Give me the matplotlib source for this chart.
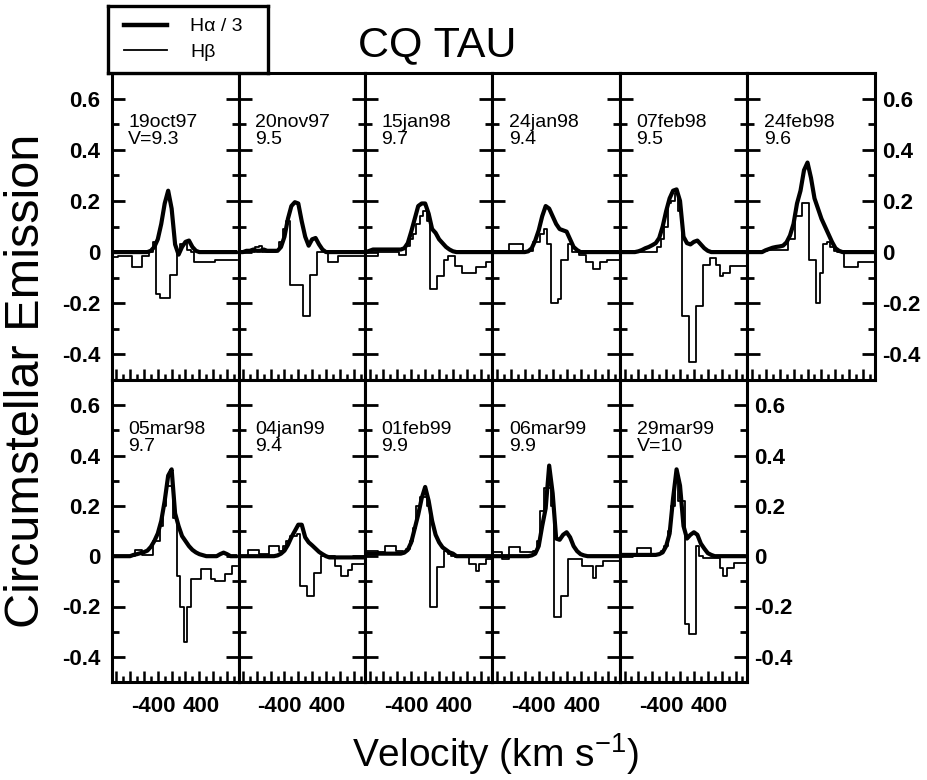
import numpy as np
import matplotlib
matplotlib.use("Agg")
import matplotlib.pyplot as plt
import matplotlib.transforms as mtransforms
from matplotlib.lines import Line2D
from matplotlib.ticker import FixedLocator, FuncFormatter, NullFormatter

plt.rcParams['font.family'] = ['Liberation Sans', 'DejaVu Sans']
plt.rcParams['mathtext.fontset'] = 'custom'
plt.rcParams['mathtext.rm'] = 'Liberation Sans'
plt.rcParams['mathtext.it'] = 'Liberation Sans'
plt.rcParams['axes.unicode_minus'] = False

# velocity channels (km/s)
velocity = np.arange(-850, 951, 50)

dates = ['19oct97', '20nov97', '15jan98', '24jan98', '07feb98', '24feb98',
         '05mar98', '04jan99', '01feb99', '06mar99', '29mar99']
vmags = ['V=9.3', '9.5', '9.7', '9.4', '9.5', '9.6',
         '9.7', '9.4', '9.9', '9.9', 'V=10']

# labelled velocity ticks
vel_label_values = [-400, 400]
vel_label_texts = ['-400', '400']

# H-alpha / 3 circumstellar emission
ha_19oct97 = [0, 0, 0, 0, 0, 0, 0, 0, 0, 0, 0,
              0.005, 0.02, 0.05, 0.11, 0.19, 0.24, 0.17, 0.03, -0.01, 0.02, 0.04, 0.045, 0.02, 0.005,
              0, 0, 0, 0, 0, 0, 0, 0, 0, 0, 0, 0]
ha_20nov97 = [0.0, 0.0, 0.005, 0.005, 0.01, 0.005, 0.005, 0.01, 0.005, 0.005, 0.005,
              0.005, 0.02, 0.06, 0.13, 0.18, 0.195, 0.19, 0.12, 0.06, 0.025, 0.05, 0.055, 0.03, 0.01,
              0, 0, 0, 0, 0, 0, 0, 0, 0, 0, 0, 0]
ha_15jan98 = [0.0, 0.005, 0.01, 0.01, 0.01, 0.01, 0.01, 0.01, 0.01, 0.01, 0.01,
              0.015, 0.035, 0.08, 0.13, 0.18, 0.19, 0.19, 0.15, 0.09, 0.075, 0.05, 0.035, 0.02, 0.01,
              0.003, 0, 0, 0, 0, 0, 0, 0, 0, 0, 0, 0]
ha_24jan98 = [0, 0, 0, 0, 0, 0, 0, 0, 0, 0, 0.003,
              0.015, 0.045, 0.085, 0.14, 0.18, 0.17, 0.14, 0.11, 0.09, 0.085, 0.08, 0.05, 0.02, 0.008,
              0, 0, 0, 0, 0, 0, 0, 0, 0, 0, 0, 0]
ha_07feb98 = [0, 0, 0, 0, 0,
              0.003, 0.008, 0.015, 0.02, 0.027, 0.035, 0.055, 0.1, 0.16, 0.21, 0.24, 0.245, 0.2,
              0.06, 0.035, 0.03, 0.04, 0.045, 0.03, 0.015, 0.005,
              0, 0, 0, 0, 0, 0, 0, 0, 0, 0, 0]
ha_24feb98 = [0, 0, 0, 0, 0,
              0.007, 0.012, 0.017, 0.02, 0.022, 0.025, 0.038, 0.065, 0.11, 0.19, 0.24, 0.32, 0.35,
              0.29, 0.21, 0.17, 0.13, 0.1, 0.07, 0.04, 0.015, 0.005,
              0, 0, 0, 0, 0, 0, 0, 0, 0, 0]
ha_05mar98 = [0, 0, 0, 0, 0, 0,
              0.005, 0.008, 0.012, 0.016, 0.022, 0.037, 0.06, 0.09, 0.14, 0.22, 0.32, 0.345,
              0.17, 0.12, 0.08, 0.06, 0.04, 0.025, 0.015, 0.008, 0.004,
              0, 0, 0, 0, 0.008, 0.014, 0.008, 0, 0, 0]
ha_04jan99 = [0, 0, 0, 0, 0, 0, 0, 0, 0, 0, 0,
              0.003, 0.01, 0.022, 0.045, 0.075, 0.1, 0.125, 0.125, 0.075, 0.055, 0.043, 0.03,
              0.017, 0.008, 0.0,
              -0.005, -0.005, -0.005, -0.005, -0.005, -0.005, -0.005, -0.005, -0.005, -0.005, -0.005]
ha_01feb99 = [0.01, 0.01, 0.01, 0.01, 0.01, 0.01, 0.01, 0.01, 0.01, 0.01, 0.01,
              0.014, 0.025, 0.055, 0.11, 0.165, 0.23, 0.275, 0.22, 0.14, 0.085, 0.055, 0.035,
              0.025, 0.015, 0.01,
              0, 0, 0, 0, 0, 0, 0, 0, 0, 0, 0]
ha_06mar99 = [0, 0, 0, 0, 0, 0, 0, 0, 0, 0, 0,
              0.003, 0.01, 0.04, 0.12, 0.19, 0.36, 0.25, 0.07, 0.065, 0.085, 0.095, 0.075,
              0.04, 0.02, 0.008, 0.003,
              0, 0, 0, 0, 0, 0, 0, 0, 0, 0]
ha_29mar99 = [0.005, 0.005, 0.005, 0.005, 0.005, 0.005, 0.005, 0.005, 0.005, 0.005, 0.005,
              0.008, 0.015, 0.04, 0.09, 0.23, 0.345, 0.28, 0.12, 0.07, 0.085, 0.095, 0.085,
              0.05, 0.03, 0.012, 0.005,
              0, 0, 0, 0, 0, 0, 0, 0, 0, 0]

# H-beta circumstellar emission (binned)
hb_19oct97 = [-0.02, -0.02, -0.015, -0.015, -0.015, -0.015, -0.06, -0.06, -0.06, -0.015, -0.015,
              0.0, 0.04, -0.165, -0.18, -0.18, -0.18, -0.09, -0.09, 0.0, 0.03, 0.035, 0.01, 0.0,
              -0.04, -0.04, -0.04, -0.04, -0.04, -0.04,
              -0.03, -0.03, -0.03, -0.03, -0.03, -0.03, -0.03]
hb_20nov97 = [0, 0, 0, 0, 0, 0.02, 0.025, 0, 0, 0, 0,
              0.01, 0.04, 0.09, 0.12, -0.13, -0.13, -0.13, -0.13, -0.25, -0.25, -0.09, -0.09,
              0.0, 0.0, 0.0, -0.04, -0.04, -0.04,
              -0.015, -0.015, -0.015, -0.015, -0.015, -0.015, -0.015, -0.015]
hb_15jan98 = [-0.015, -0.015, -0.015, -0.015, 0.0, 0.0, 0.0, 0.0, 0.0, 0.0, -0.01, -0.01,
              0.025, 0.05, 0.07, 0.11, 0.14, 0.16, 0.12,
              -0.145, -0.145, -0.095, -0.095, -0.03, -0.015, -0.015, -0.055, -0.055,
              -0.08, -0.08, -0.08, -0.08, -0.06, -0.06, -0.06, -0.04, -0.04]
hb_24jan98 = [0.0, 0.0, 0.0, 0.0, 0.0, 0.03, 0.03, 0.03, 0.03, 0.005, 0.005, 0.005,
              0.04, 0.04, 0.07, 0.09, 0.03, -0.2, -0.2, -0.185, -0.03, -0.03, 0.03,
              0.0, 0.0, -0.01, -0.01, -0.04, -0.04, -0.065, -0.065, -0.04, -0.04,
              -0.03, -0.03, -0.03, -0.03]
hb_07feb98 = [0, 0, 0, 0, 0, 0, 0, 0, 0, 0, 0,
              0.02, 0.05, 0.1, 0.19, 0.2, 0.23, 0.16,
              -0.25, -0.25, -0.43, -0.43, -0.21, -0.21, -0.05, -0.05, -0.025, -0.025, -0.05,
              -0.095, -0.08, -0.08, -0.055, -0.055, -0.055, -0.055, -0.055]
hb_24feb98 = [0.0, 0.0, 0.0, 0.0, 0.0, 0.005, 0.01, 0.01, 0.01, 0.01, 0.01, 0.01,
              0.05, 0.05, 0.14, 0.14, 0.19, 0.19,
              -0.03, -0.03, -0.2, -0.08, 0.03, 0.04, 0.02, 0.005, 0.0, 0.0,
              -0.06, -0.06, -0.06, -0.06, -0.04, -0.04, -0.04, -0.04, -0.04]
hb_05mar98 = [0, 0, 0, 0, 0, 0, 0, 0.025, 0.025, 0.005, 0.005, 0.005,
              0.06, 0.06, 0.12, 0.2, 0.28, 0.28, 0.15,
              -0.08, -0.2, -0.34, -0.2, -0.09, -0.09, -0.09, -0.05, -0.05, -0.05,
              -0.09, -0.1, -0.1, -0.1, -0.07, -0.07, -0.04, -0.04]
hb_04jan99 = [0, 0, 0, 0.025, 0.025, 0.025, 0.01, 0.01, 0.01, 0.04, 0.04, 0.04,
              0.02, 0.04, 0.06, 0.08, 0.08, 0.09, -0.12, -0.12, -0.16, -0.16, -0.065, -0.065,
              0, 0, 0, 0, -0.04, -0.04, -0.08, -0.08, -0.053, -0.033, -0.033, -0.033, -0.033]
hb_01feb99 = [0.02, 0.02, 0.02, 0.02, 0.015, 0.015, 0.04, 0.04, 0.04, 0.02, 0.02,
              0.015, 0.03, 0.06, 0.11, 0.2, 0.235, 0.235, 0.2,
              -0.2, -0.2, -0.045, -0.045, 0.02, 0.01, 0.0,
              -0.005, -0.005, -0.005, -0.005, -0.03, -0.03, -0.057, -0.03, -0.03, -0.01, -0.01]
hb_06mar99 = [0.016, 0.016, 0.016, -0.01, -0.01, 0.036, 0.036, 0.036,
              0.016, 0.016, 0.016, 0.016, 0.02, 0.06, 0.18, 0.27, 0.27, 0.2,
              -0.24, -0.24, -0.16, -0.16, -0.01, -0.01, -0.01, -0.01,
              -0.04, -0.04, -0.04, -0.085, -0.04, -0.04, -0.02, -0.02, -0.02, -0.02, -0.02]
hb_29mar99 = [0, 0, 0, 0, 0, 0.033, 0.033, 0.033, 0.033, 0.01, 0.01, 0.01,
              0.02, 0.04, 0.1, 0.2, 0.32, 0.22, 0.22,
              -0.27, -0.31, -0.31, 0.04, 0.0,
              -0.007, -0.007, -0.007, -0.007, -0.007, -0.046, -0.08, -0.046, -0.046,
              -0.027, -0.027, -0.027, -0.027]

halpha = [ha_19oct97, ha_20nov97, ha_15jan98, ha_24jan98, ha_07feb98, ha_24feb98,
          ha_05mar98, ha_04jan99, ha_01feb99, ha_06mar99, ha_29mar99]
hbeta = [hb_19oct97, hb_20nov97, hb_15jan98, hb_24jan98, hb_07feb98, hb_24feb98,
         hb_05mar98, hb_04jan99, hb_01feb99, hb_06mar99, hb_29mar99]

# ---- layout (pixels) ----
W, H = 927, 780
col_edges = [111.7, 238.5, 365.0, 492.3, 620.0, 747.0, 875.0]
row_edges = [(73, 380), (380, 682)]
n_top = 6
# horizontal nudges (points) of the velocity labels
vel_label_nudge = [6.5, 1.0]

fig = plt.figure(figsize=(W / 100, H / 100), dpi=100)

SPINE_W = 2.2
yfmt = FuncFormatter(lambda v, p: '0' if abs(v) < 1e-9 else f'{v:.1f}')

for k, (ha, hb) in enumerate(zip(halpha, hbeta)):
    row = 0 if k < n_top else 1
    col = k if k < n_top else k - n_top
    x0, x1 = col_edges[col], col_edges[col + 1]
    y0, y1 = row_edges[row]
    ax = fig.add_axes([x0 / W, 1 - y1 / H, (x1 - x0) / W, (y1 - y0) / H])

    ax.plot(velocity, ha, color='black', lw=3.0, solid_joinstyle='round',
            solid_capstyle='butt')
    ax.step(velocity, hb, where='mid', color='black', lw=1.3)

    ax.set_xlim(-865, 965)
    ax.set_ylim(-0.5, 0.7)

    ax.yaxis.set_major_locator(FixedLocator([-0.4, -0.2, 0.0, 0.2, 0.4, 0.6]))
    ax.yaxis.set_minor_locator(FixedLocator([-0.3, -0.1, 0.1, 0.3, 0.5]))
    ax.xaxis.set_major_locator(FixedLocator(np.arange(-800, 801, 200)))
    ax.xaxis.set_minor_locator(FixedLocator(np.arange(-700, 901, 200)))
    ax.yaxis.set_major_formatter(yfmt)
    ax.xaxis.set_major_formatter(NullFormatter())

    last_in_row = (k == n_top - 1) or (k == len(halpha) - 1)
    ax.tick_params(axis='y', which='both', direction='in', left=True, right=True,
                   labelleft=(col == 0), labelright=last_in_row, width=2.0)
    ax.tick_params(axis='y', which='major', length=9.5, pad=5)
    ax.tick_params(axis='y', which='minor', length=5)
    ax.tick_params(axis='x', which='both', direction='in', bottom=True, top=False,
                   labelbottom=False, width=1.8)
    ax.tick_params(axis='x', which='major', length=8)
    ax.tick_params(axis='x', which='minor', length=4)
    for lab in ax.get_yticklabels():
        lab.set_fontsize(16)
        lab.set_fontweight('bold')
    if col == 0:
        ax.tick_params(axis='y', which='major', pad=8)

    # velocity labels under the bottom row
    if row == 1:
        base = mtransforms.blended_transform_factory(ax.transData, ax.transAxes)
        for v, s, dx in zip(vel_label_values, vel_label_texts, vel_label_nudge):
            tr = base + mtransforms.ScaledTranslation(dx / 72, 0, fig.dpi_scale_trans)
            ax.text(v, -0.045, s, transform=tr, ha='center', va='top',
                    fontsize=16, fontweight='bold')

    for sp in ax.spines.values():
        sp.set_linewidth(SPINE_W)

    ax.text(0.13, 0.865, f'{dates[k]}\n{vmags[k]}', transform=ax.transAxes,
            fontsize=14, va='top', ha='left', linespacing=1.0)

# legend box
ax_leg = fig.add_axes([108 / W, 1 - 73 / H, 160 / W, 67 / H])
ax_leg.set_xticks([])
ax_leg.set_yticks([])
for sp in ax_leg.spines.values():
    sp.set_linewidth(2.4)
handles = [Line2D([], [], color='black', lw=3.2), Line2D([], [], color='black', lw=1.3)]
ax_leg.legend(handles, ['H\u03b1 / 3', 'H\u03b2'], loc='center left',
              bbox_to_anchor=(0.1, 0.5), frameon=False, fontsize=14,
              handlelength=2.2, handletextpad=1.2, labelspacing=0.42,
              borderpad=0, borderaxespad=0)

fig.text(437 / W, 1 - 45 / H, 'CQ TAU', ha='center', va='center', fontsize=31)
fig.text(27 / W, 1 - 381 / H, 'Circumstellar Emission', rotation=90,
         ha='center', va='center', fontsize=35)
fig.text(495 / W, 1 - 767 / H, 'Velocity (km s$^{-1}$)', ha='center',
         va='baseline', fontsize=28)

fig.savefig('out.png', dpi=100)
